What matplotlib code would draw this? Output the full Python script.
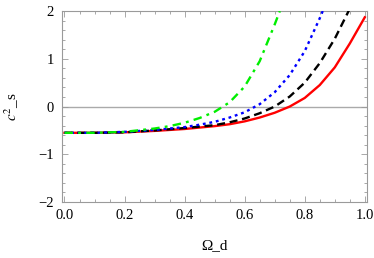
import matplotlib
matplotlib.use("Agg")
import matplotlib.pyplot as plt
from matplotlib.ticker import MultipleLocator

plt.rcParams["font.family"] = "Liberation Serif"
plt.rcParams["mathtext.fontset"] = "stix"
plt.rcParams.update({"font.size": 10.5})

# data
x_red = [0.0, 0.1, 0.2, 0.3, 0.4, 0.5, 0.55, 0.6, 0.65, 0.7, 0.75, 0.8, 0.85, 0.9, 0.95, 1.0]
y_red = [-0.55, -0.55, -0.54, -0.51, -0.47, -0.41, -0.37, -0.31, -0.23, -0.13, 0.0, 0.18, 0.45, 0.82, 1.32, 1.87]

x_black = [0.0, 0.1, 0.2, 0.3, 0.4, 0.5, 0.55, 0.6, 0.65, 0.7, 0.75, 0.8, 0.85, 0.9, 0.95]
y_black = [-0.55, -0.55, -0.54, -0.50, -0.45, -0.39, -0.33, -0.25, -0.14, 0.0, 0.21, 0.50, 0.91, 1.42, 2.05]

x_blue = [0.0, 0.1, 0.2, 0.3, 0.4, 0.45, 0.5, 0.55, 0.6, 0.65, 0.7, 0.75, 0.8, 0.85, 0.86]
y_blue = [-0.55, -0.55, -0.53, -0.49, -0.43, -0.38, -0.32, -0.23, -0.12, 0.05, 0.30, 0.66, 1.16, 1.85, 2.0]

x_green = [0.0, 0.1, 0.2, 0.3, 0.35, 0.4, 0.45, 0.5, 0.55, 0.6, 0.65, 0.7, 0.717]
y_green = [-0.55, -0.55, -0.53, -0.46, -0.41, -0.34, -0.24, -0.11, 0.09, 0.42, 0.95, 1.72, 2.0]

fig = plt.figure(figsize=(3.74, 2.58), dpi=100)
ax = fig.add_axes([0.166, 0.217, 0.815, 0.740])

gray = "#9a9a9a"
ax.axhline(0, color="#aaaaaa", lw=1.0, zorder=1)

lw = 1.7
ax.plot(x_red, y_red, color="#ff0000", lw=lw, zorder=2)
ax.plot(x_black, y_black, color="black", lw=lw, ls=(0, (3.4, 2.0)), zorder=3)
ax.plot(x_blue, y_blue, color="#0000ff", lw=lw, ls=(0, (1.2, 1.6)), zorder=4)
ax.plot(x_green, y_green, color="#00ee00", lw=lw, ls=(0, (3.6, 2.2, 1.2, 2.2)), zorder=5)

ax.set_xlim(-0.008, 1.007)
ax.set_ylim(-2, 2)
ax.xaxis.set_major_locator(MultipleLocator(0.2))
ax.xaxis.set_minor_locator(MultipleLocator(0.05))
ax.yaxis.set_major_locator(MultipleLocator(1))
ax.yaxis.set_minor_locator(MultipleLocator(0.2))
ax.xaxis.set_major_formatter(plt.FuncFormatter(lambda v, p: "%.1f" % v))
ax.yaxis.set_major_formatter(plt.FuncFormatter(lambda v, p: ("\u2212%d" % -v) if v < 0 else "%d" % v))

ax.tick_params(which="both", direction="in", top=True, right=True, color=gray, width=0.6)
ax.tick_params(which="major", length=4, labelsize=10.5)
ax.tick_params(axis="x", which="major", pad=5)
ax.tick_params(axis="y", which="major", pad=6)
ax.tick_params(which="minor", length=2)
for s in ax.spines.values():
    s.set_color(gray)
    s.set_linewidth(0.8)

ax.set_xlabel("\u03a9_d", fontsize=11, labelpad=12)
ax.set_ylabel(r"$c^{2}$_s", fontsize=11, labelpad=12)

plt.savefig("out.png", dpi=100)
